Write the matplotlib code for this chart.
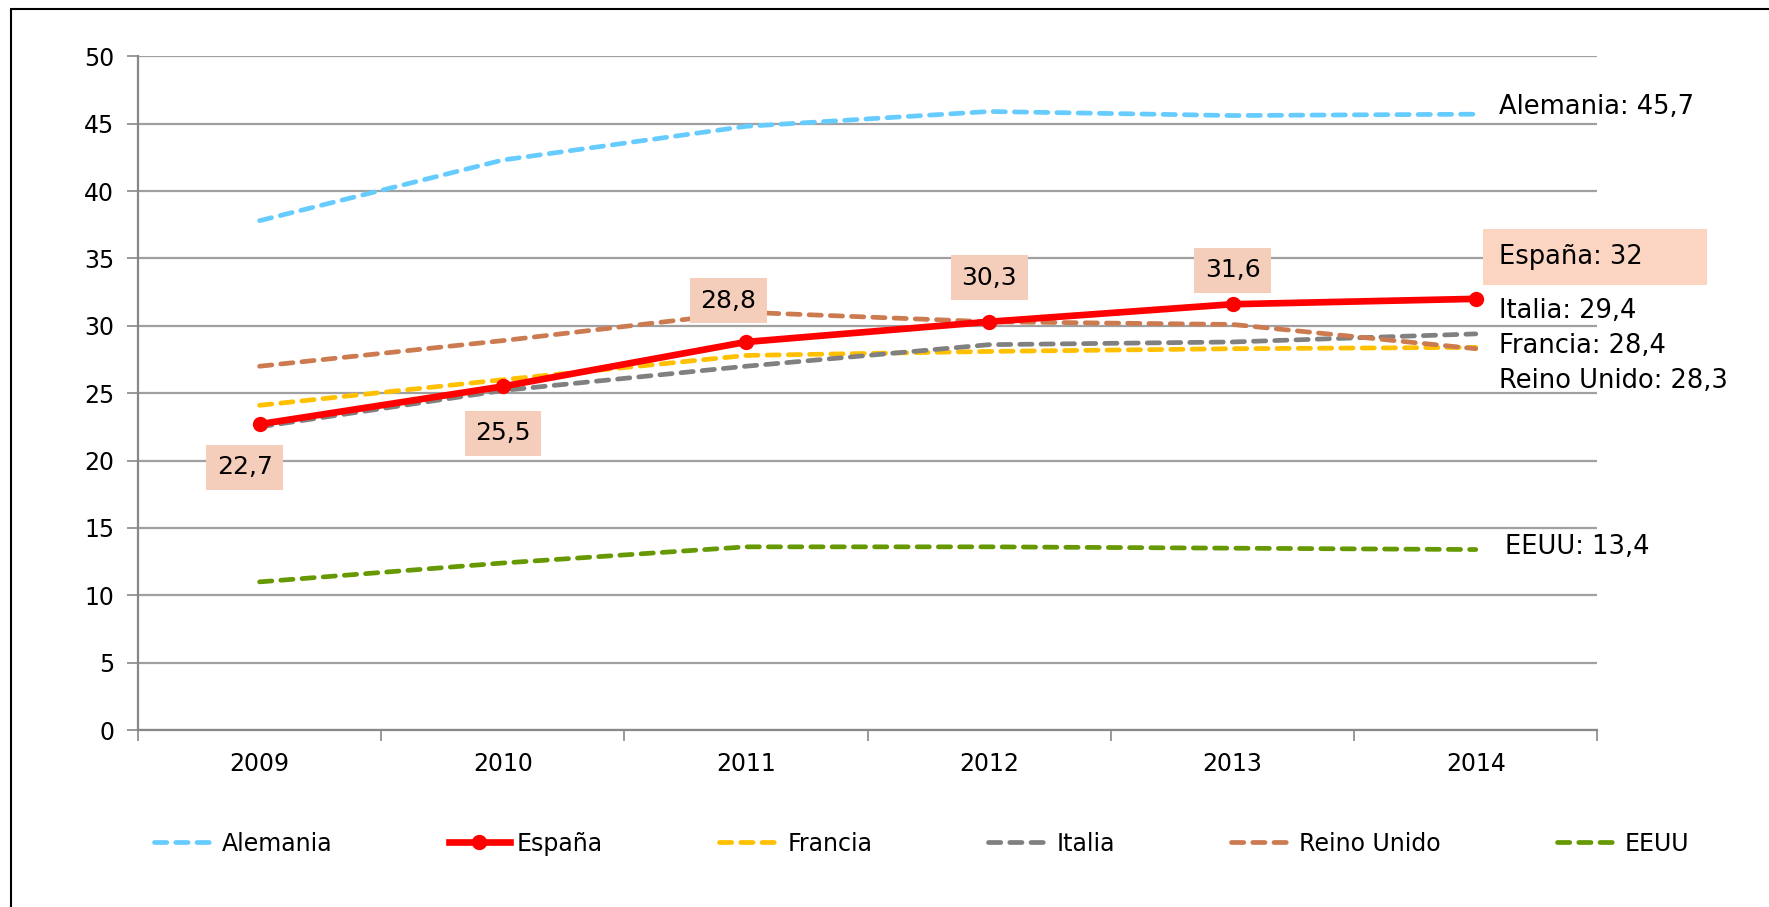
import numpy as np
import matplotlib
matplotlib.use("Agg")
import matplotlib.pyplot as plt
from matplotlib.patches import Rectangle

years = ["2009", "2010", "2011", "2012", "2013", "2014"]
alemania = [37.8, 42.3, 44.8, 45.9, 45.6, 45.7]
espana = [22.7, 25.5, 28.8, 30.3, 31.6, 32.0]
francia = [24.1, 26.0, 27.8, 28.1, 28.3, 28.4]
italia = [22.5, 25.2, 27.0, 28.6, 28.8, 29.4]
reino_unido = [27.0, 28.9, 31.0, 30.3, 30.1, 28.3]
eeuu = [11.0, 12.4, 13.6, 13.6, 13.5, 13.4]

espana_labels = ["22,7", "25,5", "28,8", "30,3", "31,6"]
label_offsets = [(-15, -43), (0, -47), (-18, 41), (0, 44), (0, 34)]

plt.rcParams['font.family'] = ['DejaVu Sans']

fig = plt.figure(figsize=[17.69, 9.07], dpi=100)
ax = fig.add_axes([0.078, 0.195, 0.825, 0.743])

x = np.arange(len(years))
dash = dict(linestyle=(0, (2.6, 1.9)), linewidth=3.4, dash_capstyle='round')

ax.plot(x, alemania, color='#66CCFF', label='Alemania', **dash)
ax.plot(x, francia, color='#FFC000', label='Francia', **dash)
ax.plot(x, italia, color='#808080', label='Italia', **dash)
ax.plot(x, reino_unido, color='#CC7A50', label='Reino Unido', **dash)
ax.plot(x, eeuu, color='#669900', label='EEUU', **dash)
ax.plot(x, espana, color='#FF0000', linewidth=4.8, marker='o', markersize=10,
        label='España', zorder=5)

box = dict(boxstyle='square,pad=0.42', facecolor='#F5CDBB', edgecolor='none')
for i, txt in enumerate(espana_labels):
    ax.annotate(txt, (x[i], espana[i]), xytext=label_offsets[i],
                textcoords='offset pixels', ha='center', va='center',
                fontsize=18, bbox=box, zorder=6)

# etiquetas a la derecha
fs = 18.5
ax.text(5.095, alemania[-1] + 0.5, "Alemania: 45,7", fontsize=fs, va='center')
ax.text(5.095, espana[-1] + 3.1, "España: 32      ", fontsize=fs, va='center',
        bbox=dict(boxstyle='square,pad=0.6', facecolor='#FBD5C1', edgecolor='none'))
ax.text(5.095, italia[-1] + 1.7, "Italia: 29,4", fontsize=fs, va='center')
ax.text(5.095, francia[-1] + 0.1, "Francia: 28,4", fontsize=fs, va='center')
ax.text(5.095, reino_unido[-1] - 2.4, "Reino Unido: 28,3", fontsize=fs, va='center')
ax.text(5.12, eeuu[-1] + 0.2, "EEUU: 13,4", fontsize=fs, va='center')

ax.set_xlim(-0.5, 5.5)
ax.set_ylim(0, 50)
ax.set_yticks(np.arange(0, 51, 5))
ax.set_xticks(x)
ax.set_xticklabels(years)
ax.set_xticks(np.arange(-0.5, 6, 1), minor=True)
ax.tick_params(axis='x', which='major', length=0, pad=16, labelsize=17)
ax.tick_params(axis='x', which='minor', length=8, color='#888888', width=1.2)
ax.tick_params(axis='y', length=8, color='#888888', width=1.2, labelsize=17, pad=9)
ax.grid(axis='y', color='#A0A0A0', linewidth=1.6)
ax.set_axisbelow(True)
for s in ['top', 'right']:
    ax.spines[s].set_visible(False)
for s in ['left', 'bottom']:
    ax.spines[s].set_color('#888888')
    ax.spines[s].set_linewidth(1.6)

handles, labels = ax.get_legend_handles_labels()
order = ['Alemania', 'España', 'Francia', 'Italia', 'Reino Unido', 'EEUU']
hmap = dict(zip(labels, handles))
fig.legend([hmap[k] for k in order], order, loc='center', ncol=6,
           bbox_to_anchor=(0.521, 0.07), frameon=False, fontsize=17,
           handlelength=2.6, handletextpad=0.3, columnspacing=4.9)

fig.patches.append(Rectangle((0.006, -0.01), 1.0, 1.0, transform=fig.transFigure,
                             fill=False, edgecolor='black', linewidth=1.5))

fig.savefig("out.png", dpi=100)
